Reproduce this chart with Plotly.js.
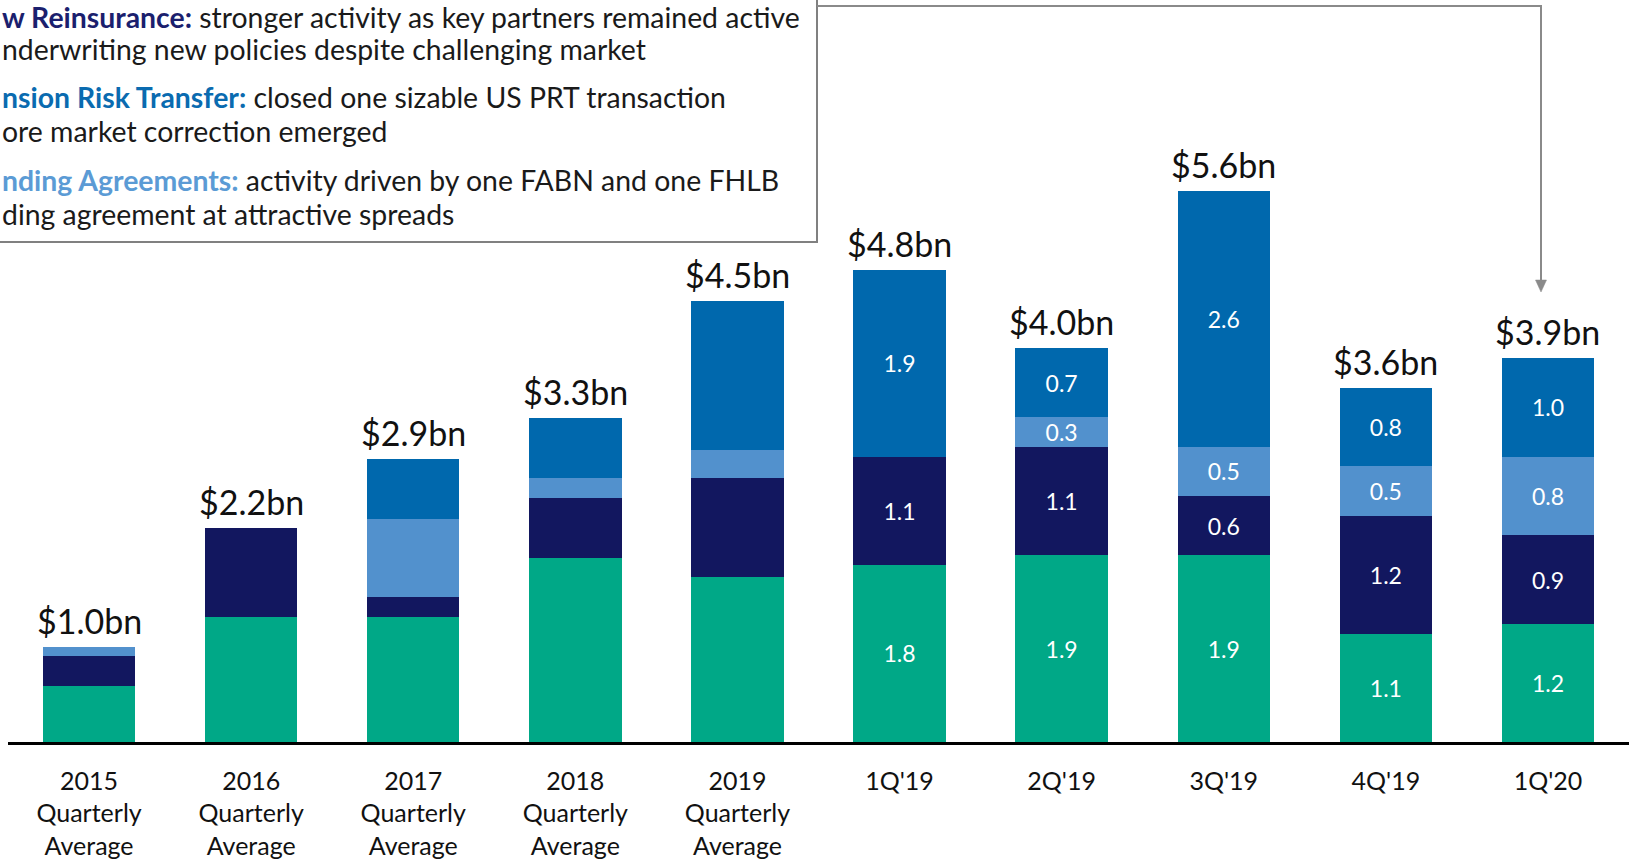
<!DOCTYPE html>
<html>
<head>
<meta charset="utf-8">
<script src="https://cdn.plot.ly/plotly-3.0.1.min.js"></script>
<style>
  html, body { margin: 0; padding: 0; background: #ffffff; overflow: hidden; }
  #chart { width: 1632px; height: 865px; }
</style>
</head>
<body>
<div id="chart"></div>
<script>
// ---- Data (US$ bn) ----
const categories = [
  "2015<br>Quarterly<br>Average",
  "2016<br>Quarterly<br>Average",
  "2017<br>Quarterly<br>Average",
  "2018<br>Quarterly<br>Average",
  "2019<br>Quarterly<br>Average",
  "1Q'19", "2Q'19", "3Q'19", "4Q'19", "1Q'20"
];
const retail              = [0.57, 1.27, 1.27, 1.87, 1.68, 1.8, 1.9, 1.9, 1.1, 1.2];
const flowReinsurance     = [0.30, 0.90, 0.20, 0.61, 1.00, 1.1, 1.1, 0.6, 1.2, 0.9];
const fundingAgreements   = [0.10, 0.00, 0.80, 0.20, 0.29, 0.0, 0.3, 0.5, 0.5, 0.8];
const pensionRiskTransfer = [0.00, 0.00, 0.61, 0.61, 1.51, 1.9, 0.7, 2.6, 0.8, 1.0];
const totalLabels = ["$1.0bn", "$2.2bn", "$2.9bn", "$3.3bn", "$4.5bn", "$4.8bn", "$4.0bn", "$5.6bn", "$3.6bn", "$3.9bn"];
const showSegmentLabels = [false, false, false, false, false, true, true, true, true, true];

// ---- Styling ----
const FONT = "Lato, 'Open Sans', sans-serif";
const colors = {
  retail: "#00A887",
  flow: "#12175F",
  funding: "#5291CD",
  prt: "#0068AD"
};

function segText(vals) {
  return vals.map((v, i) => (showSegmentLabels[i] && v > 0) ? v.toFixed(1) : "");
}

function barTrace(name, vals, color) {
  return {
    type: "bar",
    name: name,
    x: categories,
    y: vals,
    marker: { color: color, line: { width: 0 } },
    text: segText(vals),
    textposition: "inside",
    insidetextanchor: "middle",
    textangle: 0,
    textfont: { family: FONT, size: 23, color: "#ffffff" },
    hoverinfo: "skip"
  };
}

const traces = [
  barTrace("Retail", retail, colors.retail),
  barTrace("Flow Reinsurance", flowReinsurance, colors.flow),
  barTrace("Funding Agreements", fundingAgreements, colors.funding),
  barTrace("Pension Risk Transfer", pensionRiskTransfer, colors.prt)
];

const totals = categories.map((c, i) => retail[i] + flowReinsurance[i] + fundingAgreements[i] + pensionRiskTransfer[i]);

// geometry helpers (figure pixel -> paper coords)
const ML = 8, MR = 3, MT = 4, MB = 123, W = 1632, H = 865;
const PW = W - ML - MR, PH = H - MT - MB;
const px = v => (v - ML) / PW;
const py = v => (H - MB - v) / PH;

const annotations = categories.map((c, i) => ({
  x: c, y: totals[i], xref: "x", yref: "y",
  text: totalLabels[i], showarrow: false,
  yanchor: "bottom", yshift: 4,
  font: { family: FONT, size: 34, color: "#111111" }
}));

const boxLines = [
  { y: 17,  html: "<b><span style='color:#1B1F6E'>w Reinsurance:</span></b> stronger activity as key partners remained active" },
  { y: 49,  html: "nderwriting new policies despite challenging market" },
  { y: 97,  html: "<b><span style='color:#0A6BB0'>nsion Risk Transfer:</span></b> closed one sizable US PRT transaction" },
  { y: 131, html: "ore market correction emerged" },
  { y: 180, html: "<b><span style='color:#5B9BD5'>nding Agreements:</span></b> activity driven by one FABN and one FHLB" },
  { y: 214, html: "ding agreement at attractive spreads" }
];
boxLines.forEach(l => annotations.push({
  xref: "paper", yref: "paper", x: px(0), y: py(l.y),
  xanchor: "left", yanchor: "middle", showarrow: false, align: "left",
  text: l.html,
  font: { family: FONT, size: 28.4, color: "#1a1a1a" }
}));

const shapes = [
  { type: "rect", xref: "paper", yref: "paper",
    x0: px(-10), x1: px(817), y0: py(242), y1: py(-10),
    line: { color: "#808080", width: 2 }, fillcolor: "rgba(255,255,255,0)", layer: "above" },
  { type: "path", xref: "paper", yref: "paper",
    path: `M ${px(817)},${py(6)} L ${px(1541)},${py(6)} L ${px(1541)},${py(282)}`,
    line: { color: "#8a8a8a", width: 2 } },
  { type: "path", xref: "paper", yref: "paper",
    path: `M ${px(1535.5)},${py(280)} L ${px(1546.5)},${py(280)} L ${px(1541)},${py(292)} Z`,
    fillcolor: "#8a8a8a", line: { color: "#8a8a8a", width: 0.5 } }
];

const layout = {
  width: W, height: H,
  margin: { l: ML, r: MR, t: MT, b: MB, pad: 0 },
  paper_bgcolor: "#ffffff", plot_bgcolor: "#ffffff",
  barmode: "stack",
  bargap: 0.43,
  showlegend: false,
  uniformtext: { mode: "show", minsize: 23 },
  font: { family: FONT, color: "#111111" },
  xaxis: {
    type: "category",
    showline: true, linecolor: "#000000", linewidth: 2.5,
    ticks: "", showgrid: false, zeroline: false,
    tickfont: { family: FONT, size: 25, color: "#111111" },
    ticklabelstandoff: 15,
    fixedrange: true
  },
  yaxis: {
    range: [0, 7.5], visible: false, showgrid: false, zeroline: false, fixedrange: true
  },
  annotations: annotations,
  shapes: shapes
};

Plotly.newPlot("chart", traces, layout, { displayModeBar: false, staticPlot: true });
</script>
</body>
</html>
